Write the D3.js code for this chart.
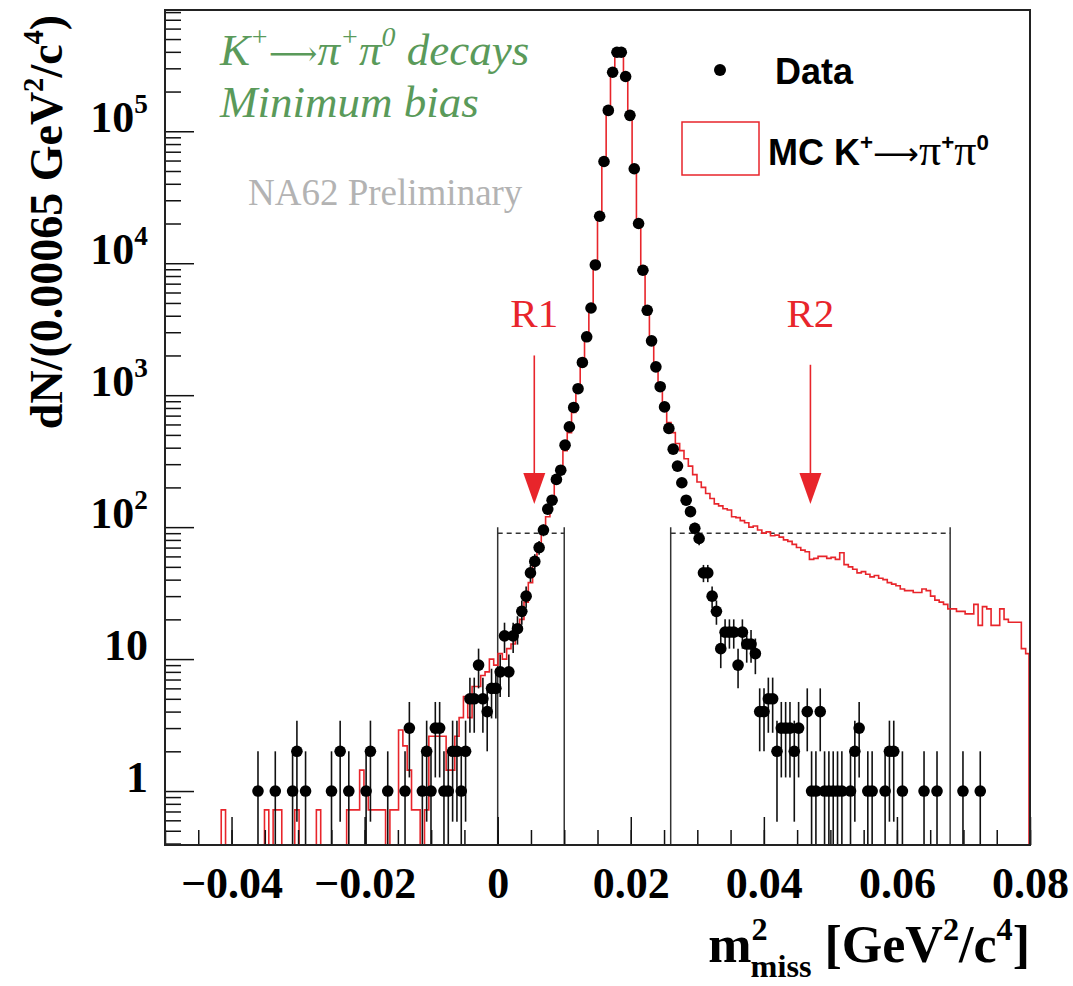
<!DOCTYPE html>
<html>
<head>
<meta charset="utf-8">
<script src="https://cdn.jsdelivr.net/npm/d3@7"></script>
<style>
  body { margin: 0; background: #fff; }
  text { font-family: "Liberation Serif", "Times New Roman", serif; }
</style>
</head>
<body>
<svg id="chart" width="1073" height="986"></svg>
<script>
// histogram binning (bin width from the y axis title)
const binLow = -0.05;
const binWidth = 0.00065;

// data: events per bin, 200 bins from -0.05 to 0.08
const dataCounts = [
  0,0,0,0,0,0,0,0,0,0,0,0,0,0,0,0,0,0,0,0,
  0,1,0,0,0,1,0,0,0,1,2,0,1,0,0,0,0,0,1,0,
  2,0,1,0,0,0,1,2,0,0,0,1,0,0,0,1,3,0,0,1,
  2,1,3,3,1,1,2,2,1,2,5,5,9,5,4,6,6,8,15,8,
  15,17,23,30,45,55,70,95,137,160,230,270,418,575,807,1120,1770,2770,4580,9700,
  22700,59000,144000,280000,397000,397000,260000,132000,52000,20000,8850,4400,2580,1640,1160,815,560,390,290,217,
  160,131,98,82,45,45,30,23,12,16,16,16,9,16,13,13,11,4,4,5,
  5,2,3,3,3,2,3,0,4,1,1,4,1,1,1,1,1,0,1,2,
  3,0,1,1,0,0,1,2,2,0,1,0,0,0,0,1,0,0,1,0,
  0,0,0,0,1,0,0,0,1,0,0,0,0,0,0,0,0,0,0,0
];

// MC K+ -> pi+ pi0, normalised content per bin
const mcContent = [
  0,0,0,0,0,0,0,0,0,0,0,0,0,0.72,0,0,0,0,0,0,
  0,0,0,0.72,0,0.72,0.72,0,0,0,0.72,0,0,0,0,0.72,0,0,0,0,
  0,0,0.72,0.72,0.72,1.44,0.96,0.72,0.72,0.72,0.72,0,0.72,0.72,2.9,2.2,1.44,0.72,0.72,0,
  0.72,2.6,2.6,2.6,2.6,1.44,1.44,2.6,3.6,5.2,3.6,6.2,6.2,7.5,8,10,9,11,10,12,
  13,17,20,27,38,52,68,90,120,160,215,290,380,520,740,1080,1650,2800,4800,10500,
  24000,62000,150000,290000,400000,400000,270000,140000,55000,21000,9500,4600,2700,1700,1200,840,620,520,430,380,
  330,290,250,220,200,180,165,150,145,138,135,120,118,112,108,100,102,95,90,92,
  86,87,84,80,78,74,70,67,65,57,58,60,60,58,59,57,64,52,50,48,
  45,46,44,42,43,41,40,38,37,36,34,33,33,32,32,34,33,30,28,27,
  26,24,24,23,23,22,22,26,18,25,24,18,18,24,20,19,19,19,12,11
];

const xTickValues = [-0.04, -0.02, 0, 0.02, 0.04, 0.06, 0.08];
const yTickValues = [1, 10, 100, 1000, 10000, 100000];

// signal regions R1, R2 and their markers
const regions = [[0, 0.01], [0.026, 0.068]];
const regionTop = 100;
const regionLevel = 90;
const arrows = [
  {label: "R1", x: 0.0055, tail: 2000, tip: 150, text: 3300},
  {label: "R2", x: 0.047, tail: 1700, tip: 150, text: 3300}
];

const plot = {left: 165, right: 1030, top: 10, bottom: 845};
const red = "#e8252b";

const svg = d3.select("#chart");

const x = d3.scaleLinear()
  .domain([binLow, binLow + binWidth * dataCounts.length])
  .range([plot.left, plot.right]);
const y = d3.scaleLog()
  .domain([0.39, 8.3e5])
  .range([plot.bottom, plot.top])
  .clamp(true);
const yv = v => y(Math.max(v, 1e-6));

svg.append("clipPath").attr("id", "clip")
  .append("rect")
  .attr("x", plot.left).attr("y", plot.top)
  .attr("width", plot.right - plot.left + 2)
  .attr("height", plot.bottom - plot.top);

/** rich text helper: parts with sup / sub */
function rich(sel, parts, size) {
  let shift = 0;
  parts.forEach(p => {
    const target = p.sup ? -0.42 * size : p.sub ? 0.28 * size : 0;
    const ts = sel.append("tspan")
      .attr("dy", target - shift)
      .style("font-size", p.size ? p.size + "px" : (p.sup || p.sub) ? (size * 0.62) + "px" : size + "px")
      .text(p.t);
    if (p.dx) ts.attr("dx", p.dx);
    if (p.font) ts.style("font-family", p.font);
    if (p.weight) ts.style("font-weight", p.weight);
    shift = target;
  });
}

// region boxes
const regionG = svg.append("g").attr("clip-path", "url(#clip)");
regions.forEach(r => {
  r.forEach(edge => {
    regionG.append("line")
      .attr("x1", x(edge)).attr("x2", x(edge))
      .attr("y1", y(regionTop)).attr("y2", plot.bottom)
      .style("stroke", "#333").style("stroke-width", 1.5);
  });
  regionG.append("line")
    .attr("x1", x(r[0])).attr("x2", x(r[1]))
    .attr("y1", y(regionLevel)).attr("y2", y(regionLevel))
    .style("stroke", "#333").style("stroke-width", 1.5)
    .style("stroke-dasharray", "5,4");
});

// MC histogram outline
const mcPoints = [[binLow, 0]];
mcContent.forEach((v, i) => mcPoints.push([binLow + i * binWidth, v]));
mcPoints.push([binLow + mcContent.length * binWidth, mcContent[mcContent.length - 1]]);
mcPoints.push([binLow + mcContent.length * binWidth, 0]);

const line = d3.line()
  .x(d => x(d[0]) - (d[0] >= x.domain()[1] - 1e-9 ? 1 : 0))
  .y(d => yv(d[1]))
  .curve(d3.curveStepAfter);

svg.append("g").attr("clip-path", "url(#clip)")
  .append("path")
  .datum(mcPoints)
  .attr("d", line)
  .style("fill", "none")
  .style("stroke", red)
  .style("stroke-width", 1.6);

// data points with sqrt(N) errors
const points = dataCounts
  .map((n, i) => ({x: binLow + (i + 0.5) * binWidth, n: n}))
  .filter(d => d.n > 0);

const dataG = svg.append("g").attr("clip-path", "url(#clip)");
dataG.selectAll("line.err")
  .data(points)
  .enter()
  .append("line")
  .attr("class", "err")
  .attr("x1", d => x(d.x)).attr("x2", d => x(d.x))
  .attr("y1", d => yv(d.n - Math.sqrt(d.n)))
  .attr("y2", d => yv(d.n + Math.sqrt(d.n)))
  .style("stroke", "#111")
  .style("stroke-width", 1.6);
dataG.selectAll("circle")
  .data(points)
  .enter()
  .append("circle")
  .attr("cx", d => x(d.x))
  .attr("cy", d => y(d.n))
  .attr("r", 5.8)
  .style("fill", "#000");

// arrows and labels
arrows.forEach(a => {
  const ax = x(a.x), tipY = y(a.tip);
  svg.append("line")
    .attr("x1", ax).attr("x2", ax)
    .attr("y1", y(a.tail)).attr("y2", tipY - 28)
    .style("stroke", red).style("stroke-width", 1.6);
  svg.append("path")
    .attr("d", `M${ax - 11},${tipY - 31}L${ax + 11},${tipY - 31}L${ax},${tipY}Z`)
    .style("fill", red);
  svg.append("text")
    .attr("x", ax).attr("y", y(a.text))
    .attr("text-anchor", "middle")
    .style("font-size", "41px")
    .style("fill", red)
    .text(a.label);
});

// axes
const xMinor = d3.axisBottom(x).tickValues(x.ticks(26)).tickSize(-15).tickFormat("");
svg.append("g")
  .attr("transform", `translate(0,${plot.bottom})`)
  .call(xMinor)
  .call(g => g.select(".domain").remove());

const fmt = d => d === 0 ? "0" : d3.format(".2f")(d);
const xAxis = d3.axisBottom(x).tickValues(xTickValues).tickSize(-28).tickPadding(22).tickFormat(fmt);
svg.append("g")
  .attr("transform", `translate(0,${plot.bottom})`)
  .call(xAxis)
  .call(g => g.select(".domain").remove())
  .call(g => g.selectAll("text")
    .style("font-family", "Liberation Serif")
    .style("font-weight", "bold")
    .style("font-size", "44px")
    .style("fill", "#000"));

const isDecade = v => Math.abs(Math.log10(v) - Math.round(Math.log10(v))) < 1e-9;
const yMinor = d3.axisLeft(y).tickValues(y.ticks().filter(v => !isDecade(v))).tickSize(-16).tickFormat("");
svg.append("g")
  .attr("transform", `translate(${plot.left},0)`)
  .call(yMinor)
  .call(g => g.select(".domain").remove());

const yAxis = d3.axisLeft(y).tickValues(yTickValues).tickSize(-29).tickFormat("");
const yG = svg.append("g")
  .attr("transform", `translate(${plot.left},0)`)
  .call(yAxis)
  .call(g => g.select(".domain").remove());

yG.selectAll(".tick").each(function(v) {
  const t = d3.select(this).append("text")
    .attr("x", -17).attr("dy", "0.36em")
    .attr("text-anchor", "end")
    .style("font-weight", "bold")
    .style("fill", "#000");
  const e = Math.round(Math.log10(v));
  if (e < 2) rich(t, [{t: String(v)}], 44);
  else rich(t, [{t: "10"}, {t: String(e), sup: true}], 44);
});

svg.selectAll(".tick line").style("stroke", "#111").style("stroke-width", 1.5);

// frame
svg.append("rect")
  .attr("x", plot.left).attr("y", plot.top)
  .attr("width", plot.right - plot.left)
  .attr("height", plot.bottom - plot.top)
  .style("fill", "none")
  .style("stroke", "#222")
  .style("stroke-width", 2);

// axis titles
const yTitle = svg.append("text")
  .attr("transform", "translate(62,222) rotate(-90)")
  .attr("text-anchor", "middle")
  .style("font-weight", "bold")
  .style("fill", "#000");
rich(yTitle, [{t: "dN/(0.00065 GeV"}, {t: "2", sup: true}, {t: "/c"}, {t: "4", sup: true}, {t: ")"}], 46);

const xTitle = svg.append("text")
  .attr("x", plot.right).attr("y", 962)
  .attr("text-anchor", "end")
  .style("font-weight", "bold")
  .style("fill", "#000");
rich(xTitle, [{t: "m"}, {t: "2", sup: true}, {t: "miss", sub: true, dx: -17},
  {t: " [GeV"}, {t: "2", sup: true}, {t: "/c"}, {t: "4", sup: true}, {t: "]"}], 52);

// green decay label
const green = "#5a9a5a";
const l1 = svg.append("text")
  .attr("x", 220).attr("y", 65)
  .style("font-style", "italic")
  .style("fill", green);
rich(l1, [{t: "K"}, {t: "+", sup: true}, {t: "⟶", font: "DejaVu Serif", size: 34}, {t: "π"}, {t: "+", sup: true},
  {t: "π"}, {t: "0", sup: true}, {t: " decays"}], 45);
svg.append("text")
  .attr("x", 220).attr("y", 117)
  .style("font-style", "italic")
  .style("font-size", "45px")
  .style("fill", green)
  .text("Minimum bias");

svg.append("text")
  .attr("x", 248).attr("y", 205)
  .style("font-size", "37px")
  .style("fill", "#b3b3b3")
  .text("NA62 Preliminary");

// legend
svg.append("circle")
  .attr("cx", 720).attr("cy", 70).attr("r", 6)
  .style("fill", "#000");
svg.append("text")
  .attr("x", 775).attr("y", 84)
  .style("font-family", "Liberation Sans")
  .style("font-weight", "bold")
  .style("font-size", "36px")
  .style("fill", "#000")
  .text("Data");
svg.append("rect")
  .attr("x", 682).attr("y", 122)
  .attr("width", 77).attr("height", 53)
  .style("fill", "none")
  .style("stroke", red)
  .style("stroke-width", 1.5);
const mcLabel = svg.append("text")
  .attr("x", 768).attr("y", 165)
  .style("font-family", "Liberation Sans")
  .style("font-weight", "bold")
  .style("fill", "#000");
rich(mcLabel, [{t: "MC K"}, {t: "+", sup: true}, {t: "⟶", font: "DejaVu Sans", size: 32, weight: "normal"},
  {t: "π", font: "Liberation Serif", size: 44, weight: "normal"}, {t: "+", sup: true},
  {t: "π", font: "Liberation Serif", size: 44, weight: "normal"}, {t: "0", sup: true}], 36);
</script>
</body>
</html>
